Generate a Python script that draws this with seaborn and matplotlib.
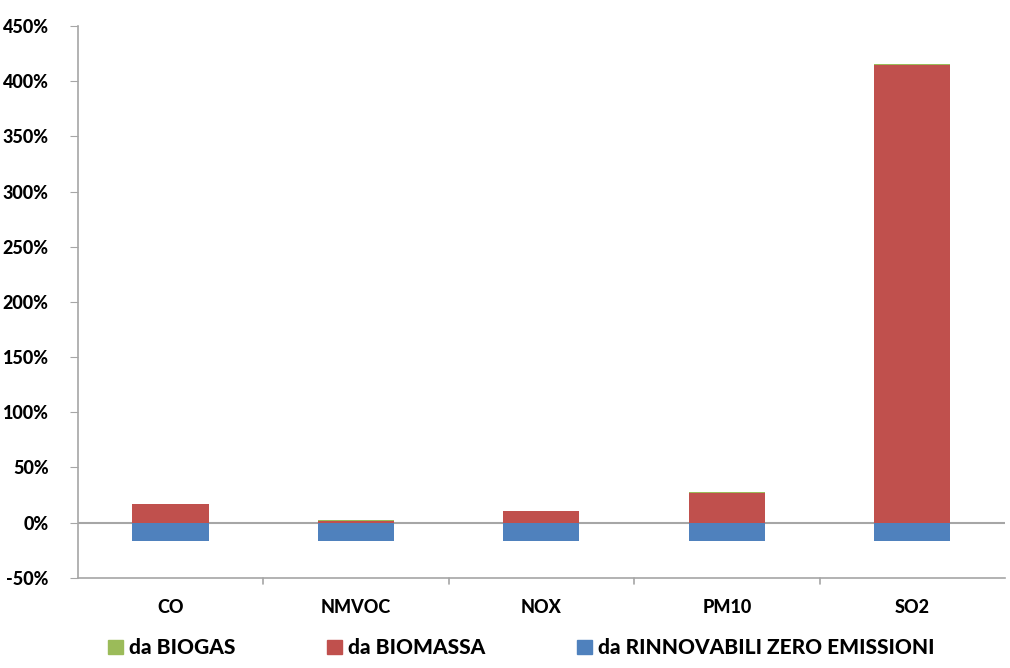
import pandas as pd
import matplotlib.pyplot as plt
import seaborn as sns
from matplotlib.patches import Patch
from matplotlib.ticker import FuncFormatter

# Data (fractions)
categories = ['CO', 'NMVOC', 'NOX', 'PM10', 'SO2']
rinnovabili = [-0.165, -0.165, -0.165, -0.165, -0.165]
biomassa = [0.165, 0.018, 0.105, 0.27, 4.145]
biogas = [0.008, 0.002, 0.003, 0.012, 0.01]

series_names = ['da BIOGAS', 'da BIOMASSA', 'da RINNOVABILI ZERO EMISSIONI']
colors = ['#9BBB59', '#C0504D', '#4F81BD']

df = pd.DataFrame({'cat': categories, 'rin': rinnovabili,
                   'bio': biomassa, 'gas': biogas})

sns.set_style('white')
plt.rcParams['font.family'] = ['Lato', 'DejaVu Sans']
plt.rcParams['font.weight'] = 'black'
plt.rcParams['text.color'] = 'black'

fig = plt.figure(figsize=(10.1, 6.68), dpi=100)
ax = fig.add_axes([0.077, 0.135, 0.918, 0.826])

w = 0.41
sns.barplot(data=df, x='cat', y='rin', color=colors[2], width=w,
            saturation=1, ax=ax, linewidth=0)
sns.barplot(data=df, x='cat', y='bio', color=colors[1], width=w,
            saturation=1, ax=ax, linewidth=0)
sns.barplot(data=df, x='cat', y='gas', color=colors[0], width=w,
            saturation=1, ax=ax, linewidth=0, bottom=df['bio'])

ax.set_ylim(-0.5, 4.5)
ax.set_xlim(-0.5, 4.5)
ax.set_yticks([i * 0.5 for i in range(-1, 10)])
ax.yaxis.set_major_formatter(FuncFormatter(lambda v, p: f'{v * 100:.0f}%'))
ax.axhline(0, color='#A6A6A6', lw=1.5, zorder=0.5)

ax.set_xlabel('')
ax.set_ylabel('')
for s in ['top', 'right']:
    ax.spines[s].set_visible(False)
for s in ['left', 'bottom']:
    ax.spines[s].set_color('#A6A6A6')
    ax.spines[s].set_linewidth(1.2)

ax.tick_params(axis='y', left=True, length=6, color='#A6A6A6', labelsize=13,
               pad=15, labelcolor='black')
ax.tick_params(axis='x', bottom=False, labelsize=13, pad=12, labelcolor='black')
for x in [0.5, 1.5, 2.5, 3.5]:
    ax.plot([x, x], [0, -0.012], transform=ax.get_xaxis_transform(),
            color='#A6A6A6', lw=1.2, clip_on=False)
for lab in ax.get_xticklabels() + ax.get_yticklabels():
    lab.set_fontweight('black')

handles = [Patch(color=c, label=n) for c, n in zip(colors, series_names)]
fig.legend(handles=handles, loc='lower left', bbox_to_anchor=(0.088, -0.012),
           ncol=3, frameon=False, prop={'weight': 'black', 'size': 15},
           handlelength=0.72, handleheight=0.72, handletextpad=0.3,
           columnspacing=4.4)

fig.savefig('out.png', dpi=100)
